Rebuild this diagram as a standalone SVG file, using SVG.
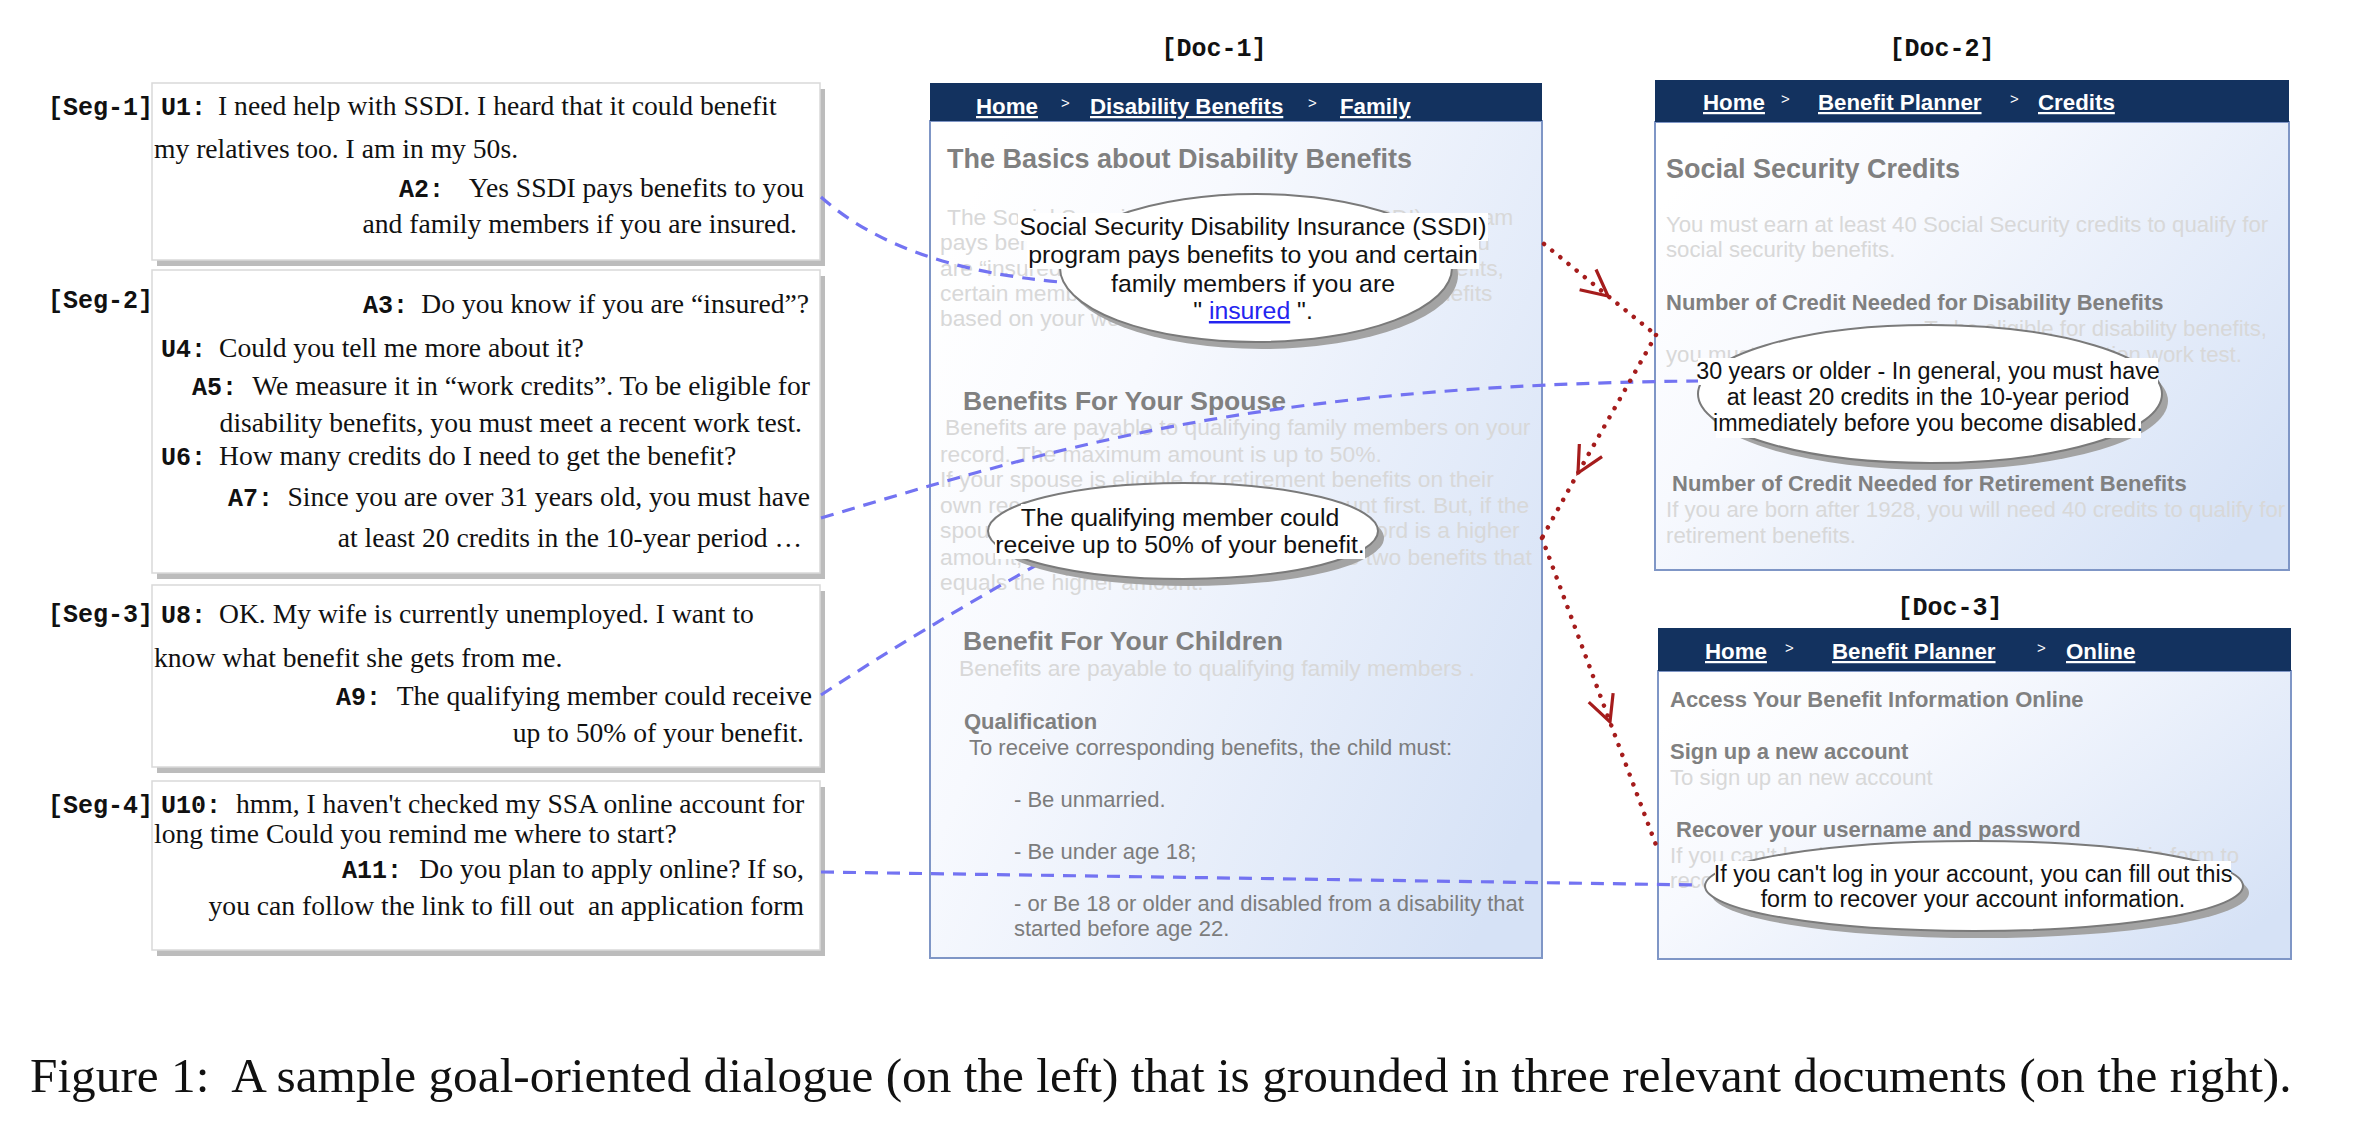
<svg xmlns="http://www.w3.org/2000/svg" width="2354" height="1122" viewBox="0 0 2354 1122">
<defs>
<linearGradient id="docg" x1="0" y1="0.2" x2="1" y2="0.8">
<stop offset="0" stop-color="#ffffff"/>
<stop offset="0.3" stop-color="#f7f9fe"/>
<stop offset="1" stop-color="#d6e2f6"/>
</linearGradient>
<marker id="chev" viewBox="-30 -16 34 32" refX="0" refY="0" markerWidth="34" markerHeight="32" markerUnits="userSpaceOnUse" orient="auto">
<path d="M-26,-13 L0,0 L-26,13" fill="none" stroke="#a51c1c" stroke-width="3.2"/>
</marker>
<style>
.ser{font-family:"Liberation Serif","Times New Roman",serif;font-size:27.6px;fill:#111}
.mono{font-family:"Liberation Mono","Courier New",monospace;font-weight:bold;font-size:25px;fill:#111}
.r{text-anchor:end}
.hdr{font-family:"Liberation Sans",Arial,sans-serif;font-weight:bold;font-size:22.3px;fill:#fff;text-decoration:underline}
.gt{font-family:"Liberation Sans",Arial,sans-serif;font-size:15px;fill:#fff}
.h1{font-family:"Liberation Sans",Arial,sans-serif;font-weight:bold;font-size:27px;fill:#808080}
.hs{font-family:"Liberation Sans",Arial,sans-serif;font-weight:bold;font-size:26.5px;fill:#808080}
.h2{font-family:"Liberation Sans",Arial,sans-serif;font-weight:bold;font-size:22px;fill:#808080}
.fa{font-family:"Liberation Sans",Arial,sans-serif;font-size:22.8px;fill:#d8d8d8}
.fb{font-family:"Liberation Sans",Arial,sans-serif;font-size:22.2px;fill:#d8d8d8}
.bd{font-family:"Liberation Sans",Arial,sans-serif;font-size:22px;fill:#7c7c7c}
.co{font-family:"Liberation Sans",Arial,sans-serif;font-size:24.8px;fill:#111;text-anchor:middle}
.co2{font-family:"Liberation Sans",Arial,sans-serif;font-size:23.3px;fill:#111;text-anchor:middle}
.segbox{fill:#fff;stroke:#d9d9d9;stroke-width:1.5}
.segsh{fill:#bcbcbc}
.docbody{fill:url(#docg);stroke:#7f96c6;stroke-width:2}
.dochdr{fill:#13325f}
.conn{fill:none;stroke:#7373f2;stroke-width:3.2;stroke-dasharray:13 9}
.red{fill:none;stroke:#a51c1c;stroke-width:4.5;stroke-dasharray:0.01 10.5;stroke-linecap:round;marker-mid:url(#chev)}
.ell{fill:#fff;stroke:#7a7a7a;stroke-width:2}
.ellsh{fill:#a3a3a3}
.wb{fill:#fff}
.cap{font-family:"Liberation Serif","Times New Roman",serif;font-size:49.3px;fill:#111;white-space:pre}
</style>
</defs>
<rect x="0" y="0" width="2354" height="1122" fill="#fff"/>

<g id="seg-1">
<rect class="segsh" x="157" y="89" width="668" height="177"/>
<rect class="segbox" x="152" y="83" width="668" height="177"/>
<text class="mono" x="48" y="115">[Seg-1]</text>
<text class="mono" x="161" y="115">U1:</text>
<text class="ser" x="218" y="115">I need help with SSDI. I heard that it could benefit</text>
<text class="ser" x="154" y="158">my relatives too. I am in my 50s.</text>
<text class="mono" x="399" y="197">A2:</text>
<text class="ser r" x="804" y="197">Yes SSDI pays benefits to you</text>
<text class="ser r" x="797" y="233">and family members if you are insured.</text>
</g>

<g id="seg-2">
<rect class="segsh" x="157" y="276" width="668" height="303"/>
<rect class="segbox" x="152" y="270" width="668" height="303"/>
<text class="mono" x="48" y="308">[Seg-2]</text>
<text class="mono" x="363" y="313">A3:</text>
<text class="ser r" x="809" y="313">Do you know if you are “insured”?</text>
<text class="mono" x="161" y="357">U4:</text>
<text class="ser" x="219" y="357">Could you tell me more about it?</text>
<text class="mono" x="192" y="395">A5:</text>
<text class="ser r" x="810" y="395">We measure it in “work credits”. To be eligible for</text>
<text class="ser r" x="802" y="432">disability benefits, you must meet a recent work test.</text>
<text class="mono" x="161" y="465">U6:</text>
<text class="ser" x="219" y="465">How many credits do I need to get the benefit?</text>
<text class="mono" x="228" y="506">A7:</text>
<text class="ser r" x="810" y="506">Since you are over 31 years old, you must have</text>
<text class="ser r" x="802" y="547">at least 20 credits in the 10-year period …</text>
</g>

<g id="seg-3">
<rect class="segsh" x="157" y="591" width="668" height="182"/>
<rect class="segbox" x="152" y="585" width="668" height="182"/>
<text class="mono" x="48" y="622">[Seg-3]</text>
<text class="mono" x="161" y="623">U8:</text>
<text class="ser" x="219" y="623">OK. My wife is currently unemployed. I want to</text>
<text class="ser" x="154" y="667">know what benefit she gets from me.</text>
<text class="mono" x="336" y="705">A9:</text>
<text class="ser r" x="812" y="705">The qualifying member could receive</text>
<text class="ser r" x="804" y="742">up to 50% of your benefit.</text>
</g>

<g id="seg-4">
<rect class="segsh" x="157" y="787" width="668" height="169"/>
<rect class="segbox" x="152" y="781" width="668" height="169"/>
<text class="mono" x="48" y="813">[Seg-4]</text>
<text class="mono" x="161" y="813">U10:</text>
<text class="ser" x="236" y="813">hmm, I haven't checked my SSA online account for</text>
<text class="ser" x="154" y="843">long time Could you remind me where to start?</text>
<text class="mono" x="342" y="878">A11:</text>
<text class="ser r" x="804" y="878">Do you plan to apply online? If so,</text>
<text class="ser r" x="804" y="915" style="white-space:pre">you can follow the link to fill out  an application form</text>
</g>

<g id="doc-1">
<text class="mono" x="1214" y="56" text-anchor="middle">[Doc-1]</text>
<rect class="docbody" x="930" y="121" width="612" height="837"/>
<rect class="dochdr" x="930" y="83" width="612" height="38"/>
<text class="hdr" x="976" y="114">Home</text>
<text class="gt" x="1061" y="108">&gt;</text>
<text class="hdr" x="1090" y="114">Disability Benefits</text>
<text class="gt" x="1308" y="108">&gt;</text>
<text class="hdr" x="1340" y="114">Family</text>
<text class="h1" x="947" y="168">The Basics about Disability Benefits</text>
<text class="fa" x="947" y="225">The Social Security Disability Insurance (SSDI) program</text>
<text class="fa" x="940" y="250">pays benefits to you and certain family members if you</text>
<text class="fa" x="940" y="276">are “insured”, meaning that your family can get benefits,</text>
<text class="fa" x="940" y="301">certain members of your family may qualify for benefits</text>
<text class="fa" x="940" y="326">based on your work.</text>
<text class="hs" x="963" y="410">Benefits For Your Spouse</text>
<text class="fa" x="945" y="435">Benefits are payable to qualifying family members on your</text>
<text class="fa" x="940" y="462">record. The maximum amount is up to 50%.</text>
<text class="fa" x="940" y="487">If your spouse is eligible for retirement benefits on their</text>
<text class="fa" x="940" y="513">own record, we will pay that benefit amount first. But, if the</text>
<text class="fa" x="940" y="538">spouse's benefit amount based on your record is a higher</text>
<text class="fa" x="940" y="565">amount, they will get a combination of the two benefits that</text>
<text class="fa" x="940" y="590">equals the higher amount.</text>
<text class="hs" x="963" y="650">Benefit For Your Children</text>
<text class="fa" x="959" y="676">Benefits are payable to qualifying family members .</text>
<text class="h2" x="964" y="729">Qualification</text>
<text class="bd" x="969" y="755">To receive corresponding benefits, the child must:</text>
<text class="bd" x="1014" y="807">- Be unmarried.</text>
<text class="bd" x="1014" y="859">- Be under age 18;</text>
<text class="bd" x="1014" y="911">- or Be 18 or older and disabled from a disability that</text>
<text class="bd" x="1014" y="936">started before age 22.</text>
</g>

<g id="doc-2">
<text class="mono" x="1942" y="56" text-anchor="middle">[Doc-2]</text>
<rect class="docbody" x="1655" y="122" width="634" height="448"/>
<rect class="dochdr" x="1655" y="80" width="634" height="42"/>
<text class="hdr" x="1703" y="110">Home</text>
<text class="gt" x="1781" y="104">&gt;</text>
<text class="hdr" x="1818" y="110">Benefit Planner</text>
<text class="gt" x="2010" y="104">&gt;</text>
<text class="hdr" x="2038" y="110">Credits</text>
<text class="h1" x="1666" y="178">Social Security Credits</text>
<text class="fb" x="1666" y="232">You must earn at least 40 Social Security credits to qualify for</text>
<text class="fb" x="1666" y="257">social security benefits.</text>
<text class="h2" x="1666" y="310">Number of Credit Needed for Disability Benefits</text>
<text class="fb" x="2267" y="336" text-anchor="end">To be eligible for disability benefits,</text>
<text class="fb" x="1666" y="362">you must meet a recent work test and a duration work test.</text>
<text class="h2" x="1672" y="491">Number of Credit Needed for Retirement Benefits</text>
<text class="fb" x="1666" y="517">If you are born after 1928, you will need 40 credits to qualify for</text>
<text class="fb" x="1666" y="543">retirement benefits.</text>
</g>

<g id="doc-3">
<text class="mono" x="1950" y="615" text-anchor="middle">[Doc-3]</text>
<rect class="docbody" x="1658" y="671" width="633" height="288"/>
<rect class="dochdr" x="1658" y="628" width="633" height="43"/>
<text class="hdr" x="1705" y="659">Home</text>
<text class="gt" x="1785" y="653">&gt;</text>
<text class="hdr" x="1832" y="659">Benefit Planner</text>
<text class="gt" x="2037" y="653">&gt;</text>
<text class="hdr" x="2066" y="659">Online</text>
<text class="h2" x="1670" y="707">Access Your Benefit Information Online</text>
<text class="h2" x="1670" y="759">Sign up a new account</text>
<text class="fb" x="1670" y="785">To sign up an new account</text>
<text class="h2" x="1676" y="837">Recover your username and password</text>
<text class="fb" x="1670" y="863">If you can't log in your account, you can fill out this form to</text>
<text class="fb" x="1670" y="888">recover your account information.</text>
</g>

<g id="connectors">
<path class="conn" d="M821,197 Q900,268 1060,282"/>
<path class="conn" d="M821,518 C1050,450 1250,385 1700,381"/>
<path class="conn" d="M821,695 Q920,630 1042,562"/>
<path class="conn" d="M821,872 L1700,885"/>
<path class="red" d="M1544,244 L1608,296 L1656,335"/>
<path class="red" d="M1656,335 L1578,473 L1542,538"/>
<path class="red" d="M1542,538 L1610,722 L1656,845"/>
</g>

<g id="callout-1">
<ellipse class="ellsh" cx="1262" cy="275" rx="196" ry="74"/>
<ellipse class="ell" cx="1256" cy="268" rx="196" ry="74"/>
<rect class="wb" x="1018" y="213" width="470" height="28"/>
<rect class="wb" x="1027" y="241" width="452" height="28"/>
<text class="co" x="1253" y="235">Social Security Disability Insurance (SSDI)</text>
<text class="co" x="1253" y="263">program pays benefits to you and certain</text>
<text class="co" x="1253" y="292">family members if you are</text>
<text class="co" x="1253" y="319" style="white-space:pre">" <tspan fill="#2424f0" text-decoration="underline">insured</tspan> ".</text>
</g>

<g id="callout-2">
<ellipse class="ellsh" cx="1189" cy="538" rx="195" ry="48"/>
<ellipse class="ell" cx="1183" cy="531" rx="195" ry="48"/>
<rect class="wb" x="1021" y="504" width="318" height="27"/>
<rect class="wb" x="995" y="531" width="370" height="28"/>
<text class="co" x="1180" y="526">The qualifying member could</text>
<text class="co" x="1180" y="553">receive up to 50% of your benefit.</text>
</g>

<g id="callout-3">
<ellipse class="ellsh" cx="1936" cy="401" rx="232" ry="69"/>
<ellipse class="ell" cx="1930" cy="394" rx="232" ry="69"/>
<rect class="wb" x="1698" y="358" width="460" height="27"/>
<rect class="wb" x="1720" y="385" width="416" height="26"/>
<rect class="wb" x="1716" y="411" width="425" height="27"/>
<text class="co2" x="1928" y="379">30 years or older - In general, you must have</text>
<text class="co2" x="1928" y="405">at least 20 credits in the 10-year period</text>
<text class="co2" x="1928" y="431">immediately before you become disabled.</text>
</g>

<g id="callout-4">
<ellipse class="ellsh" cx="1980" cy="893" rx="269" ry="45"/>
<ellipse class="ell" cx="1974" cy="886" rx="269" ry="45"/>
<rect class="wb" x="1715" y="861" width="516" height="27"/>
<text class="co2" x="1973" y="882">If you can't log in your account, you can fill out this</text>
<text class="co2" x="1973" y="907">form to recover your account information.</text>
</g>

<text class="cap" x="30" y="1092">Figure 1:  A sample goal-oriented dialogue (on the left) that is grounded in three relevant documents (on the right).</text>
</svg>
